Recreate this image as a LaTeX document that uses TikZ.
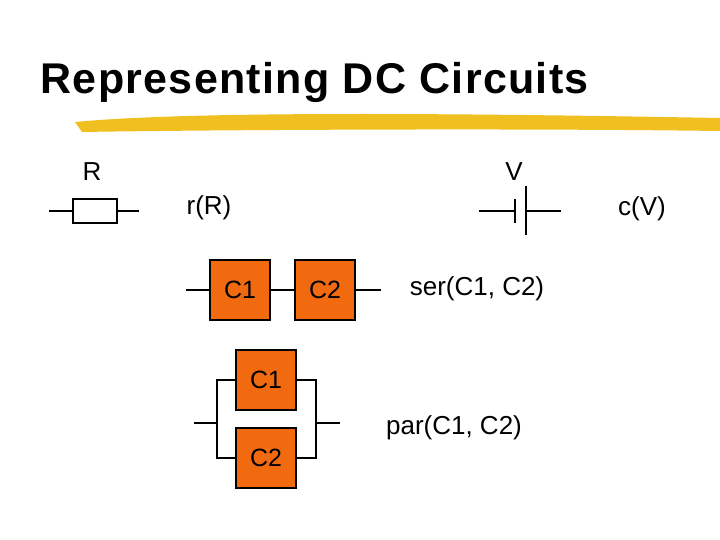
\documentclass[tikz,border=0pt]{standalone}
\usepackage{fontspec}
\setmainfont{Liberation Sans}
\usepackage{tikz}
\usetikzlibrary{positioning,calc}
\definecolor{capfill}{HTML}{F26A10}
\definecolor{brush}{HTML}{F0C020}
\tikzset{%
	comp/.style = {draw, rectangle, line width=1.4pt, fill=capfill, minimum width=60pt,
		minimum height=60pt, inner sep=0pt, font=\fontsize{25}{28}\selectfont},
	res/.style  = {draw, rectangle, line width=1.4pt, minimum width=44pt, minimum height=24pt},
	lbl/.style  = {font=\fontsize{26}{28}\selectfont}
}
\begin{document}
\begin{tikzpicture}[x=1pt, y=-1pt, line width=1.4pt]
	\useasboundingbox (0,0) rectangle (720,540);
	% title
	\node[anchor=base west, inner sep=0pt, font=\bfseries\fontsize{43}{46}\selectfont] (title) at (40,94) {\addfontfeature{LetterSpace=3}Representing DC Circuits};
	\fill[brush] (75,122) .. controls (200,110) and (500,114) .. (720,118)
		-- (720,131) .. controls (500,128) and (200,130) .. (82,132) -- cycle;
	% resistor
	\node[res] (rbox) at (95,211) {};
	\coordinate (rl) at (49,211); \coordinate (rr) at (139,211);
	\draw (rl) -- (rbox.west) (rbox.east) -- (rr);
	\node[lbl] (R) at (92,172) {R};
	\node[lbl] (rR) at (209,208) {r(R)};
	% cell
	\coordinate (vl) at (479,211); \coordinate (vr) at (561,211);
	\coordinate (p1) at (515,211); \coordinate (p2) at (526,211);
	\draw (vl) -- (p1) (p2) -- (vr);
	\draw ($(p1)+(0,-12)$) -- ($(p1)+(0,12)$);
	\draw ($(p2)+(0,-25)$) -- ($(p2)+(0,24)$);
	\node[lbl] (V) at (514,172) {V};
	\node[lbl] (cV) at (642,209) {c(V)};
	% series
	\node[comp] (s1) at (240,290) {C1};
	\node[comp] (s2) at (325,290) {C2};
	\coordinate (sl) at (186,290); \coordinate (sr) at (381,290);
	\draw (sl) -- (s1) -- (s2) -- (sr);
	\node[lbl] (ser) at (477,289) {ser(C1, C2)};
	% parallel
	\node[comp] (q1) at (266,380) {C1};
	\node[comp] (q2) at (266,458) {C2};
	\coordinate (pl) at (194,423); \coordinate (pr) at (340,423);
	\draw (q1.west) -| (217,423) |- (q2.west);
	\draw (q1.east) -| (316,423) |- (q2.east);
	\draw (pl) -- (217,423) (316,423) -- (pr);
	\node[lbl] (par) at (454,428) {par(C1, C2)};
\end{tikzpicture}
\end{document}
